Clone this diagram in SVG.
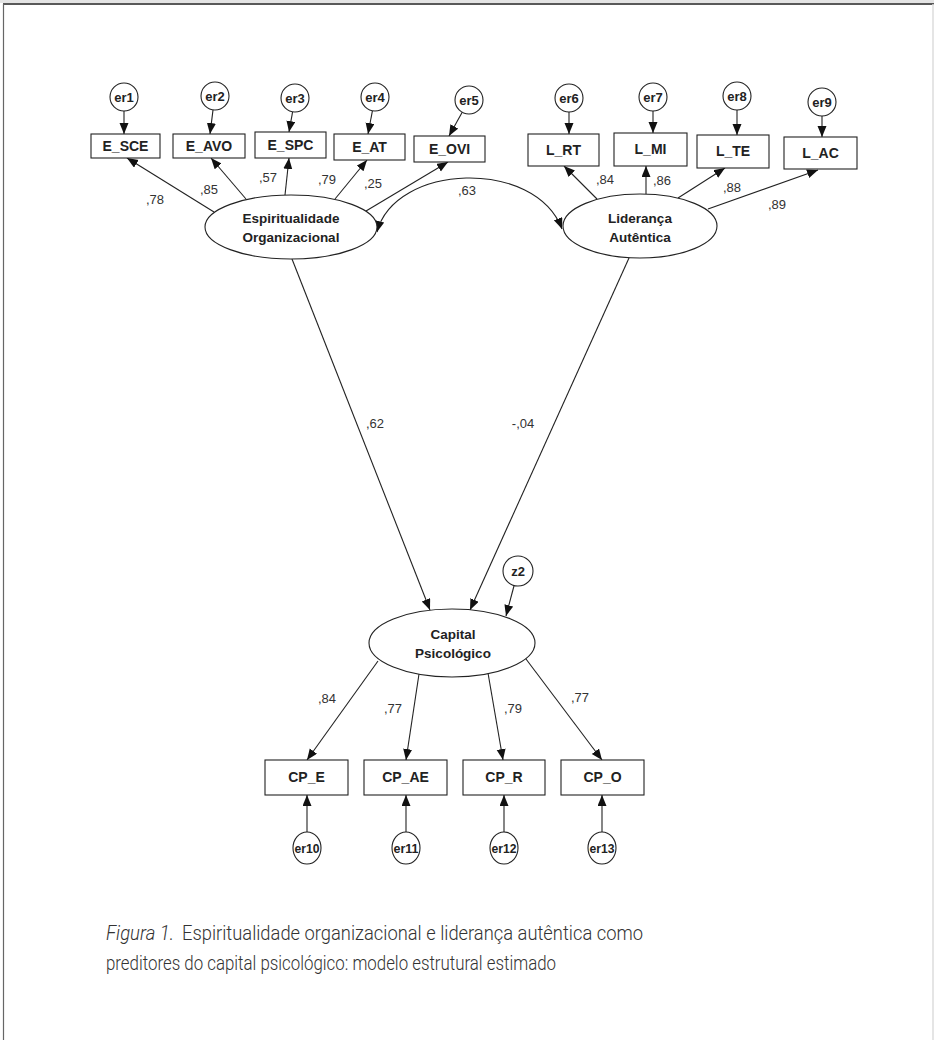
<svg xmlns="http://www.w3.org/2000/svg" width="934" height="1040" viewBox="0 0 934 1040">
  <style>
    .obs { fill: #fff; stroke: #222; stroke-width: 1.1; }
    .lat { fill: #fff; stroke: #222; stroke-width: 1.1; }
    .err { fill: #fff; stroke: #222; stroke-width: 1.1; }
    .lbl { font-family: "Liberation Sans", Arial, sans-serif; font-weight: bold; font-size: 14px; fill: #222; text-anchor: middle; }
    .lat-lbl { font-family: "Liberation Sans", Arial, sans-serif; font-weight: bold; font-size: 13.5px; fill: #222; text-anchor: middle; }
    .err-lbl { font-family: "Liberation Sans", Arial, sans-serif; font-weight: bold; font-size: 13px; fill: #222; text-anchor: middle; }
    .coef { font-family: "Liberation Sans", Arial, sans-serif; font-size: 13px; fill: #333; text-anchor: middle; }
    .edge { fill: none; stroke: #222; stroke-width: 1.1; marker-end: url(#arrow); }
    .caption { font-family: Roboto, "Liberation Sans", sans-serif; font-weight: 300; font-size: 21px; fill: #333; }
  </style>
  <defs>
    <marker id="arrow" markerUnits="userSpaceOnUse" markerWidth="12" markerHeight="10" refX="11" refY="4.5" orient="auto-start-reverse">
      <path d="M0,0 L11,4.5 L0,9 z" fill="#111"/>
    </marker>
  </defs>

  <!-- page frame -->
  <rect x="0" y="0" width="934" height="1040" fill="#fff"/>
  <rect x="0" y="0" width="934" height="3" fill="#e4e4e4"/>
  <line x1="3" y1="4" x2="934" y2="4" stroke="#222" stroke-width="1.6"/>
  <line x1="3.5" y1="4" x2="3.5" y2="1040" stroke="#666" stroke-width="1.2"/>
  <line x1="933" y1="4" x2="933" y2="1040" stroke="#ddd" stroke-width="1.5"/>

  <!-- connectors -->
  <g id="connectors">
    <!-- error terms to indicators (top) -->
    <line class="edge" x1="124" y1="111" x2="124" y2="134"/>
    <line class="edge" x1="213" y1="110" x2="210" y2="134"/>
    <line class="edge" x1="292.6" y1="111.8" x2="289" y2="132"/>
    <line class="edge" x1="372.4" y1="110.8" x2="368" y2="134"/>
    <line class="edge" x1="462.2" y1="112.2" x2="449" y2="136"/>
    <line class="edge" x1="569" y1="112" x2="569" y2="134"/>
    <line class="edge" x1="653" y1="111" x2="653" y2="133"/>
    <line class="edge" x1="737" y1="110" x2="737" y2="135"/>
    <line class="edge" x1="822" y1="116" x2="822" y2="137"/>

    <!-- loadings: Espiritualidade Organizacional -->
    <line class="edge" x1="214" y1="212" x2="127" y2="158"/>
    <line class="edge" x1="246" y1="199" x2="211" y2="158"/>
    <line class="edge" x1="285" y1="195" x2="289" y2="158"/>
    <line class="edge" x1="335" y1="199" x2="367" y2="160"/>
    <line class="edge" x1="366" y1="211" x2="448" y2="162"/>

    <!-- loadings: Liderança Autêntica -->
    <line class="edge" x1="597" y1="199" x2="564" y2="166"/>
    <line class="edge" x1="646" y1="194" x2="646" y2="166"/>
    <line class="edge" x1="678" y1="198" x2="725" y2="168"/>
    <line class="edge" x1="708" y1="209" x2="818" y2="170"/>

    <!-- covariance -->
    <path class="edge" d="M562,229 C535,158 395,163 377,232" marker-start="url(#arrow)"/>

    <!-- structural paths -->
    <line class="edge" x1="292" y1="259" x2="430" y2="610"/>
    <line class="edge" x1="629" y1="258" x2="470" y2="610"/>
    <line class="edge" x1="514.1" y1="585.5" x2="506" y2="616"/>

    <!-- loadings: Capital Psicológico -->
    <line class="edge" x1="378" y1="661" x2="307" y2="760"/>
    <line class="edge" x1="419" y1="674" x2="406" y2="760"/>
    <line class="edge" x1="488" y1="673" x2="503" y2="760"/>
    <line class="edge" x1="526" y1="659" x2="602" y2="760"/>

    <!-- error terms to indicators (bottom) -->
    <line class="edge" x1="307" y1="832" x2="307" y2="795"/>
    <line class="edge" x1="406" y1="832" x2="406" y2="795"/>
    <line class="edge" x1="504" y1="832" x2="504" y2="795"/>
    <line class="edge" x1="602" y1="832" x2="602" y2="795"/>
  </g>

  <!-- coefficient labels -->
  <g id="coefficients">
    <text class="coef" x="155" y="204">,78</text>
    <text class="coef" x="209" y="194">,85</text>
    <text class="coef" x="268" y="182">,57</text>
    <text class="coef" x="327" y="184">,79</text>
    <text class="coef" x="373" y="188">,25</text>
    <text class="coef" x="467" y="195">,63</text>
    <text class="coef" x="605" y="184">,84</text>
    <text class="coef" x="662" y="185">,86</text>
    <text class="coef" x="732" y="192">,88</text>
    <text class="coef" x="777" y="209">,89</text>
    <text class="coef" x="375" y="428">,62</text>
    <text class="coef" x="523" y="428">-,04</text>
    <text class="coef" x="327" y="703">,84</text>
    <text class="coef" x="393" y="713">,77</text>
    <text class="coef" x="513" y="713">,79</text>
    <text class="coef" x="580" y="702">,77</text>
  </g>

  <!-- latent variables -->
  <g id="espiritualidade">
    <ellipse class="lat" cx="291" cy="227" rx="86" ry="32"/>
    <text class="lat-lbl" x="291" y="223">Espiritualidade</text>
    <text class="lat-lbl" x="291" y="242">Organizacional</text>
  </g>
  <g id="lideranca">
    <ellipse class="lat" cx="640" cy="226" rx="77" ry="32"/>
    <text class="lat-lbl" x="640" y="223">Liderança</text>
    <text class="lat-lbl" x="640" y="242">Autêntica</text>
  </g>
  <g id="capital">
    <ellipse class="lat" cx="452" cy="643" rx="83" ry="34"/>
    <text class="lat-lbl" x="453" y="639">Capital</text>
    <text class="lat-lbl" x="453" y="658">Psicológico</text>
  </g>

  <!-- indicators: Espiritualidade Organizacional -->
  <g id="E_SCE"><rect class="obs" x="91" y="134" width="69" height="24"/><text class="lbl" x="125.5" y="151">E_SCE</text></g>
  <g id="E_AVO"><rect class="obs" x="173" y="134" width="72" height="24"/><text class="lbl" x="209" y="151">E_AVO</text></g>
  <g id="E_SPC"><rect class="obs" x="255" y="132" width="71" height="26"/><text class="lbl" x="290.5" y="150">E_SPC</text></g>
  <g id="E_AT"><rect class="obs" x="334" y="134" width="71" height="26"/><text class="lbl" x="369.5" y="152">E_AT</text></g>
  <g id="E_OVI"><rect class="obs" x="414" y="136" width="71" height="26"/><text class="lbl" x="449.5" y="154">E_OVI</text></g>

  <!-- indicators: Liderança Autêntica -->
  <g id="L_RT"><rect class="obs" x="528" y="134" width="71" height="32"/><text class="lbl" x="563.5" y="155">L_RT</text></g>
  <g id="L_MI"><rect class="obs" x="614" y="133" width="73" height="33"/><text class="lbl" x="650.5" y="154">L_MI</text></g>
  <g id="L_TE"><rect class="obs" x="697" y="135" width="72" height="33"/><text class="lbl" x="733" y="156">L_TE</text></g>
  <g id="L_AC"><rect class="obs" x="784" y="137" width="73" height="32"/><text class="lbl" x="820.5" y="158">L_AC</text></g>

  <!-- indicators: Capital Psicológico -->
  <g id="CP_E"><rect class="obs" x="265" y="760" width="83" height="35"/><text class="lbl" x="306.5" y="782">CP_E</text></g>
  <g id="CP_AE"><rect class="obs" x="364" y="760" width="83" height="35"/><text class="lbl" x="405.5" y="782">CP_AE</text></g>
  <g id="CP_R"><rect class="obs" x="463" y="760" width="82" height="35"/><text class="lbl" x="504" y="782">CP_R</text></g>
  <g id="CP_O"><rect class="obs" x="561" y="760" width="83" height="35"/><text class="lbl" x="602.5" y="782">CP_O</text></g>

  <!-- error terms -->
  <g id="er1"><circle class="err" cx="124" cy="97" r="14"/><text class="err-lbl" x="124" y="102">er1</text></g>
  <g id="er2"><circle class="err" cx="215" cy="96" r="14"/><text class="err-lbl" x="215" y="101">er2</text></g>
  <g id="er3"><circle class="err" cx="295" cy="98" r="14"/><text class="err-lbl" x="295" y="103">er3</text></g>
  <g id="er4"><circle class="err" cx="375" cy="97" r="14"/><text class="err-lbl" x="375" y="102">er4</text></g>
  <g id="er5"><circle class="err" cx="469" cy="100" r="14"/><text class="err-lbl" x="469" y="105">er5</text></g>
  <g id="er6"><circle class="err" cx="569" cy="98" r="14"/><text class="err-lbl" x="569" y="103">er6</text></g>
  <g id="er7"><circle class="err" cx="653" cy="97" r="14"/><text class="err-lbl" x="653" y="102">er7</text></g>
  <g id="er8"><circle class="err" cx="737" cy="96" r="14"/><text class="err-lbl" x="737" y="101">er8</text></g>
  <g id="er9"><circle class="err" cx="822" cy="102" r="14"/><text class="err-lbl" x="822" y="107">er9</text></g>
  <g id="z2"><circle class="err" cx="518" cy="571" r="15"/><text class="err-lbl" x="518" y="576">z2</text></g>
  <g id="er10"><ellipse class="err" cx="307" cy="848" rx="14" ry="16"/><text class="err-lbl" x="307" y="853" textLength="25" lengthAdjust="spacingAndGlyphs">er10</text></g>
  <g id="er11"><ellipse class="err" cx="406" cy="848" rx="14" ry="16"/><text class="err-lbl" x="406" y="853" textLength="25" lengthAdjust="spacingAndGlyphs">er11</text></g>
  <g id="er12"><ellipse class="err" cx="504" cy="848" rx="14" ry="16"/><text class="err-lbl" x="504" y="853" textLength="25" lengthAdjust="spacingAndGlyphs">er12</text></g>
  <g id="er13"><ellipse class="err" cx="602" cy="848" rx="14" ry="16"/><text class="err-lbl" x="602" y="853" textLength="25" lengthAdjust="spacingAndGlyphs">er13</text></g>

  <!-- caption -->
  <text class="caption" x="106" y="940" font-style="italic" textLength="68" lengthAdjust="spacingAndGlyphs">Figura 1.</text>
  <text class="caption" x="182" y="940" textLength="461" lengthAdjust="spacingAndGlyphs">Espiritualidade organizacional e liderança autêntica como</text>
  <text class="caption" x="106" y="970" textLength="450" lengthAdjust="spacingAndGlyphs">preditores do capital psicológico: modelo estrutural estimado</text>
</svg>
